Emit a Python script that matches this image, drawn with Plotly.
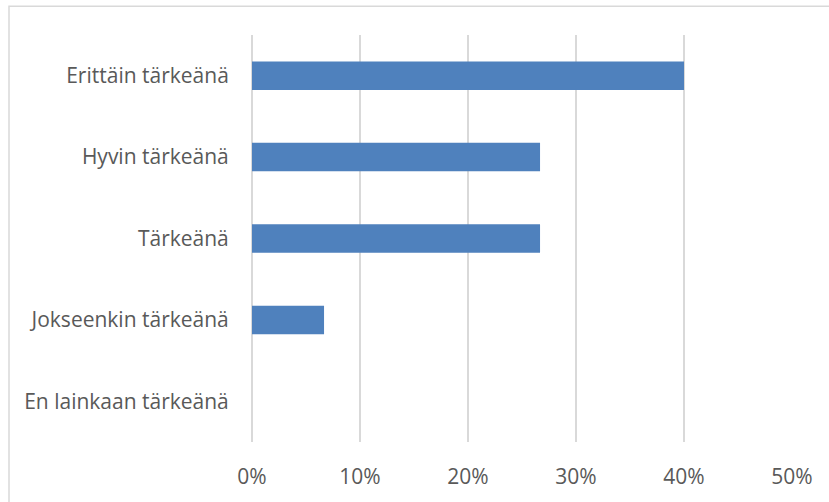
import plotly.graph_objects as go

# Survey answers: how important the topic was considered (share of respondents)
categories = [
    "Erittäin tärkeänä",
    "Hyvin tärkeänä",
    "Tärkeänä",
    "Jokseenkin tärkeänä",
    "En lainkaan tärkeänä",
]
shares = [0.40, 0.2667, 0.2667, 0.0667, 0.0]
tick_values = [0, 0.1, 0.2, 0.3, 0.4, 0.5]
tick_labels = ["0%", "10%", "20%", "30%", "40%", "50%"]

fig = go.Figure(
    go.Bar(
        x=shares,
        y=categories,
        orientation="h",
        marker=dict(color="#4F81BD", line=dict(width=0)),
        width=0.35,
        hoverinfo="x+y",
    )
)

fig.update_layout(
    width=829,
    height=502,
    margin=dict(l=252, r=37, t=35, b=57),
    paper_bgcolor="white",
    plot_bgcolor="white",
    showlegend=False,
    font=dict(family="Open Sans, DejaVu Sans, sans-serif", size=21, color="#595959"),
    xaxis=dict(
        range=[0, 0.5],
        tickvals=tick_values,
        ticktext=tick_labels,
        showgrid=True,
        gridcolor="#D9D9D9",
        gridwidth=1.5,
        zeroline=True,
        zerolinecolor="#D9D9D9",
        zerolinewidth=1.5,
        showline=False,
        ticks="outside",
        ticklen=16,
        tickcolor="rgba(0,0,0,0)",
        tickfont=dict(size=21, color="#595959"),
    ),
    yaxis=dict(
        categoryorder="array",
        categoryarray=categories[::-1],
        showgrid=False,
        zeroline=False,
        showline=False,
        ticks="outside",
        ticklen=18,
        tickcolor="rgba(0,0,0,0)",
        tickfont=dict(size=21, color="#595959"),
    ),
    shapes=[
        dict(
            type="rect",
            xref="paper",
            yref="paper",
            x0=(9 - 252) / 540,
            x1=(840 - 252) / 540,
            y0=(57 - 512) / 410,
            y1=(502 - 6 - 57) / 410,
            line=dict(color="#D9D9D9", width=1.5),
            fillcolor="rgba(0,0,0,0)",
            layer="below",
        )
    ],
)

fig.write_html("out.html")
